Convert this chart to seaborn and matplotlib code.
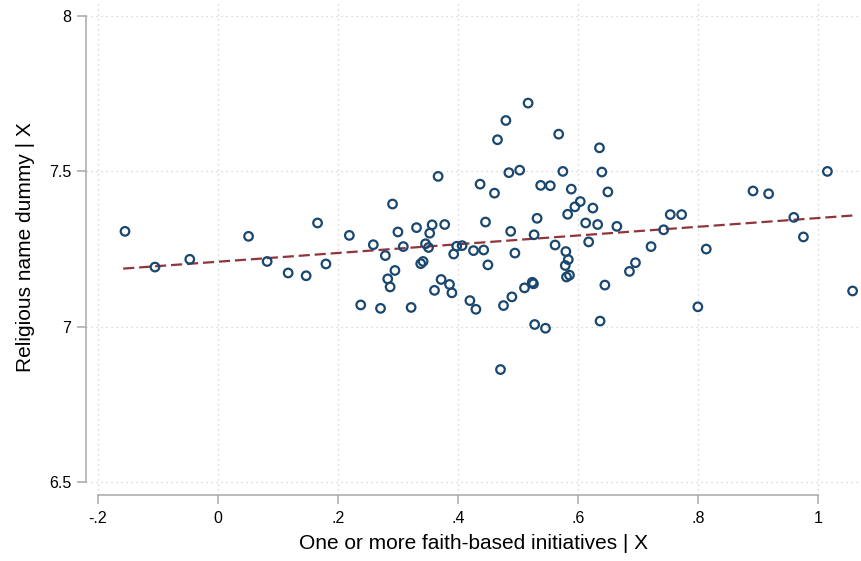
import numpy as np
import pandas as pd
import matplotlib
matplotlib.use("Agg")
import matplotlib.pyplot as plt
import seaborn as sns

# residualised values (added-variable plot)
faith_x = [-0.155, -0.105, -0.047, 0.051, 0.082, 0.117, 0.147, 0.180, 0.166, 0.219,
           0.238, 0.259, 0.271, 0.279, 0.283, 0.287, 0.291, 0.295, 0.300, 0.309,
           0.322, 0.331, 0.338, 0.342, 0.346, 0.351, 0.353, 0.357, 0.361, 0.367,
           0.372, 0.378, 0.386, 0.390, 0.393, 0.398, 0.407, 0.420, 0.426, 0.430,
           0.437, 0.443, 0.446, 0.450, 0.461, 0.466, 0.471, 0.476, 0.480, 0.485,
           0.488, 0.490, 0.495, 0.503, 0.511, 0.517, 0.524, 0.526, 0.527, 0.528,
           0.532, 0.538, 0.546, 0.554, 0.562, 0.568, 0.575, 0.580, 0.584, 0.579,
           0.586, 0.581, 0.583, 0.589, 0.595, 0.604, 0.613, 0.618, 0.625, 0.633,
           0.636, 0.637, 0.640, 0.645, 0.650, 0.665, 0.686, 0.696, 0.722, 0.743,
           0.754, 0.773, 0.800, 0.814, 0.892, 0.918, 0.960, 0.976, 1.016, 1.058]
name_y = [7.307, 7.192, 7.217, 7.291, 7.210, 7.173, 7.164, 7.202, 7.334, 7.294,
          7.070, 7.264, 7.059, 7.229, 7.154, 7.128, 7.395, 7.181, 7.305, 7.258,
          7.062, 7.319, 7.203, 7.210, 7.267, 7.255, 7.301, 7.328, 7.117, 7.484,
          7.152, 7.329, 7.136, 7.109, 7.234, 7.259, 7.261, 7.084, 7.245, 7.056,
          7.459, 7.247, 7.337, 7.199, 7.430, 7.602, 6.862, 7.068, 7.664, 7.496,
          7.307, 7.096, 7.237, 7.504, 7.125, 7.720, 7.143, 7.138, 7.296, 7.007,
          7.349, 7.455, 6.995, 7.454, 7.263, 7.620, 7.500, 7.242, 7.216, 7.197,
          7.166, 7.160, 7.362, 7.443, 7.386, 7.403, 7.334, 7.273, 7.382, 7.329,
          7.576, 7.018, 7.498, 7.134, 7.434, 7.323, 7.178, 7.206, 7.258, 7.312,
          7.361, 7.361, 7.064, 7.250, 7.437, 7.428, 7.352, 7.289, 7.500, 7.115]

# fitted values at the ends of the data range
fit_x = [-0.158, 1.058]
fit_y = [7.187, 7.358]

x_ticks = [-0.2, 0, 0.2, 0.4, 0.6, 0.8, 1]
x_tick_labels = ["-.2", "0", ".2", ".4", ".6", ".8", "1"]
y_ticks = [6.5, 7, 7.5, 8]
y_tick_labels = ["6.5", "7", "7.5", "8"]

df = pd.DataFrame({"x": faith_x, "y": name_y})

sns.set_theme(style="white")
plt.rcParams['font.family'] = ['Liberation Sans', 'DejaVu Sans']

navy = "#1a476f"
maroon = "#90353b"
axis_grey = "#a8a8a8"

fig = plt.figure(figsize=(8.61, 5.61), dpi=100)
ax = fig.add_axes([86 / 861, 66 / 561, 775 / 861, 495 / 561])

sns.scatterplot(data=df, x="x", y="y", ax=ax, marker="o", s=38,
                facecolor="none", edgecolor=navy, linewidth=1.6, zorder=3)
line_ax = sns.lineplot(x=fit_x, y=fit_y, ax=ax, color=maroon, linewidth=1.6, zorder=2)
line_ax.lines[-1].set_dashes((5, 2.2))

ax.set_xlim(-0.22, 1.072)
ax.set_ylim(6.458, 8.052)
ax.set_xticks(x_ticks)
ax.set_xticklabels(x_tick_labels)
ax.set_yticks(y_ticks)
ax.set_yticklabels(y_tick_labels)

ax.grid(True, color="#cfcfcf", linestyle=(0, (1, 3)), linewidth=0.9, zorder=0)
for side in ["top", "right"]:
    ax.spines[side].set_visible(False)
ax.spines["left"].set_bounds(6.5, 8)
ax.spines["bottom"].set_bounds(-0.2, 1)
for side in ["left", "bottom"]:
    ax.spines[side].set_color(axis_grey)
    ax.spines[side].set_linewidth(1.1)

ax.tick_params(axis="both", which="major", direction="out", length=6.5, width=1.1,
               color=axis_grey, labelsize=11.5, labelcolor="black", left=True, bottom=True)
ax.tick_params(axis="y", pad=4)
ax.tick_params(axis="x", pad=5)

ax.set_xlabel("One or more faith-based initiatives | X", fontsize=15, color="black", labelpad=6)
ax.set_ylabel("Religious name dummy | X", fontsize=15, color="black", labelpad=10)

fig.savefig("out.png", dpi=100)
